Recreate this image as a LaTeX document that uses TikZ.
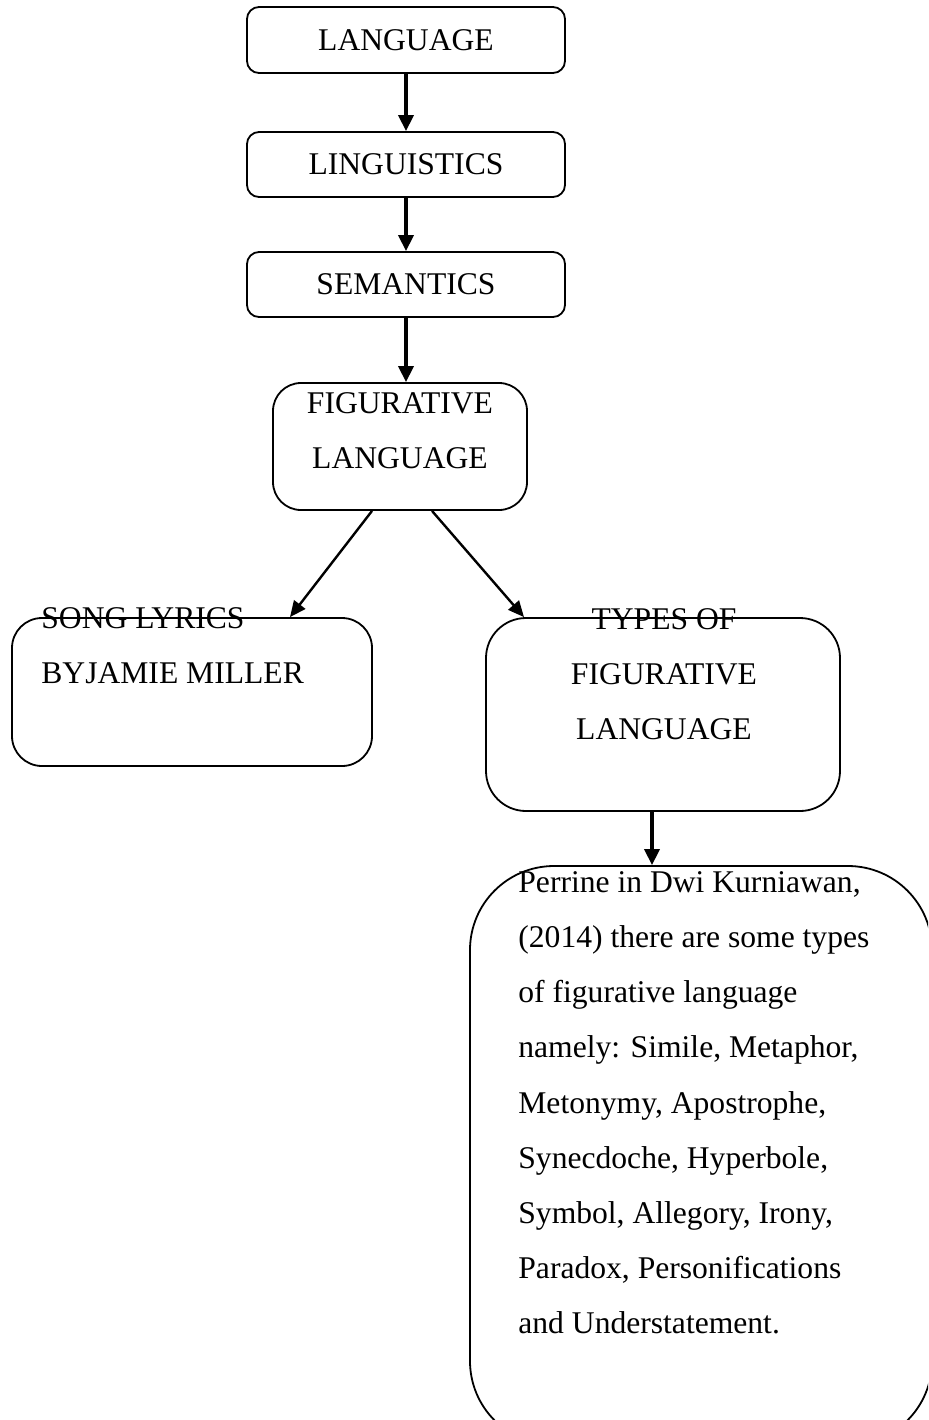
\documentclass[tikz,border=0pt]{standalone}
\usepackage{fontspec}
\setmainfont{Liberation Serif}
\usetikzlibrary{arrows.meta}
\begin{document}
\begin{tikzpicture}[x=0.5pt,y=-0.5pt,
  box/.style={draw,line width=0.9pt,inner sep=0pt,font=\fontsize{15.8pt}{27.6pt}\selectfont},
  lbl/.style={inner sep=0pt,font=\fontsize{15.8pt}{27.6pt}\selectfont},
  arr/.style={-{Triangle[length=8pt,width=7.5pt]},line width=1.8pt},
  darr/.style={-{Triangle[length=8pt,width=7pt]},line width=1.2pt}]
\useasboundingbox (0,0) rectangle (928,1420);
\clip (0,0) rectangle (928,1420);
% boxes
\node[box,rounded corners=6pt,minimum width=159pt,minimum height=33pt] (lang) at (406,40) {LANGUAGE};
\node[box,rounded corners=6pt,minimum width=159pt,minimum height=32.5pt] (ling) at (406,164.5) {LINGUISTICS};
\node[box,rounded corners=6pt,minimum width=159pt,minimum height=32.5pt] (sem) at (406,284.5) {SEMANTICS};
\node[box,rounded corners=14pt,minimum width=127pt,minimum height=63.5pt] (fig) at (400,446.5) {};
\node[box,rounded corners=15pt,minimum width=180pt,minimum height=74pt] (song) at (192,692) {};
\node[box,rounded corners=20pt,minimum width=177pt,minimum height=96.5pt] (types) at (663,714.5) {};
\node[box,rounded corners=42pt,minimum width=231pt,minimum height=289.5pt] (perr) at (701,1155.5) {};
% texts
\node[lbl,align=center,anchor=north] (figt) at (400,392) {FIGURATIVE\\LANGUAGE};
\node[lbl,align=left,anchor=north west] (songt) at (41,607) {SONG LYRICS\\BYJAMIE MILLER};
\node[lbl,align=center,anchor=north] (typest) at (664,608) {TYPES OF\\FIGURATIVE\\LANGUAGE};
\node[lbl,align=left,anchor=north west] (perrt) at (518,871) {Perrine in Dwi Kurniawan,\\(2014) there are some types\\of figurative language\\namely: Simile, Metaphor,\\Metonymy, Apostrophe,\\Synecdoche, Hyperbole,\\Symbol, Allegory, Irony,\\Paradox, Personifications\\and Understatement.};
% connectors
\draw[arr] (lang) -- (ling);
\draw[arr] (ling) -- (sem);
\draw[arr] (sem.south) -- (sem.south |- fig.north);
\draw[darr] ([xshift=-14pt]fig.south) -- ([xshift=49pt]song.north);
\draw[darr] ([xshift=16pt]fig.south) -- ([xshift=-69.5pt]types.north);
\draw[arr] ([xshift=-5.5pt]types.south) -- ([xshift=-5.5pt]types.south |- perr.north);
\end{tikzpicture}
\end{document}
